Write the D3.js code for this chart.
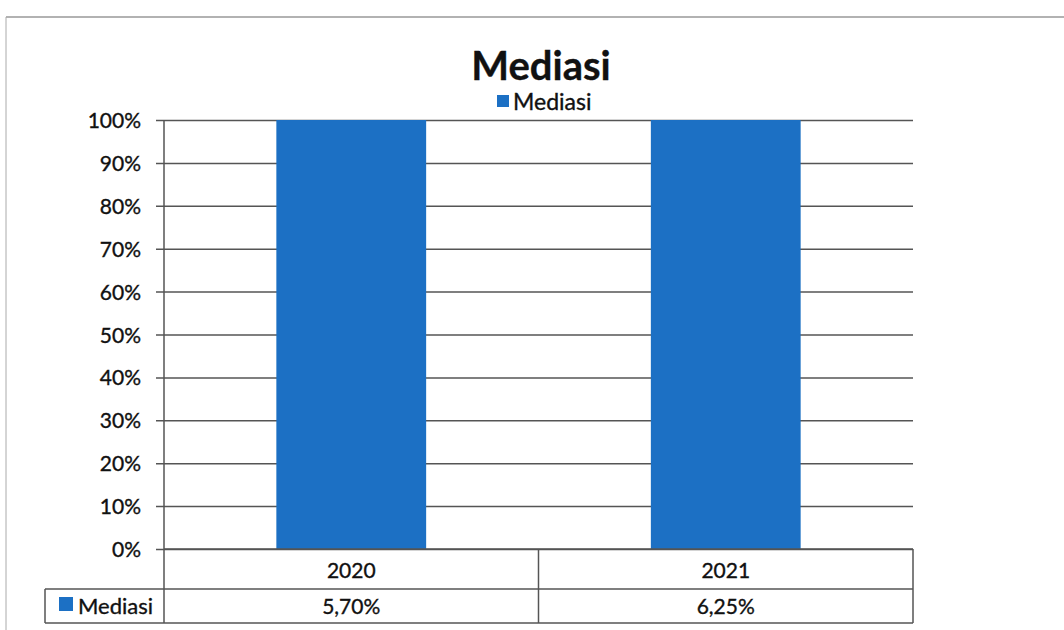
<!DOCTYPE html>
<html>
<head>
<meta charset="utf-8">
<script src="https://cdn.jsdelivr.net/npm/d3@7"></script>
<style>
  body { margin: 0; background: #fff; }
  svg { display: block; font-family: Lato, "Open Sans", sans-serif; }
  .txt { fill: #111; stroke: #111; stroke-width: 0.35px; }
</style>
</head>
<body>
<svg id="chart" width="1064" height="630"></svg>
<script>
// data
const years = ["2020", "2021"];
const seriesName = "Mediasi";
const mediasiValues = [5.70, 6.25];
const yTicks = [0, 0.1, 0.2, 0.3, 0.4, 0.5, 0.6, 0.7, 0.8, 0.9, 1.0];

const barColor = "#1c70c4";
const lineColor = "#555";

const svg = d3.select("#chart");

// page frame (scanned chart border)
svg.append("line").attr("x1", 6).attr("x2", 1064).attr("y1", 17).attr("y2", 17)
    .attr("stroke", "#999").attr("stroke-width", 1.5);
svg.append("line").attr("x1", 6).attr("x2", 6).attr("y1", 17).attr("y2", 630)
    .attr("stroke", "#aaa").attr("stroke-width", 1);

const plot = {left: 164, right: 913, top: 120, bottom: 549};

const x = d3.scaleBand().domain(years).range([plot.left, plot.right]).paddingInner(0.6).paddingOuter(0.3);
const xCol = d3.scaleBand().domain(years).range([plot.left, plot.right]);
const y = d3.scaleLinear().domain([0, 1]).range([plot.bottom, plot.top]);

// 100% stacked: each bar is its series share of the column total
const rows = years.map((yr, i) => {
    const total = d3.sum([mediasiValues[i]]);
    return {year: yr, value: mediasiValues[i], share: mediasiValues[i] / total};
});

// gridlines + ticks
const yAxis = d3.axisLeft(y).tickValues(yTicks)
    .tickFormat(d => Math.round(d * 100) + "%")
    .tickSize(-(plot.right - plot.left)).tickPadding(23);
const gy = svg.append("g").attr("transform", `translate(${plot.left},0)`).call(yAxis);
gy.select(".domain").remove();
gy.selectAll(".tick line").attr("x1", -8).attr("stroke", lineColor).attr("stroke-width", 1.5);
gy.selectAll(".tick text").attr("class", "txt").attr("font-size", 21)
    .attr("font-family", "Lato, sans-serif").attr("dy", "0.36em");

// vertical axis line
svg.append("line").attr("x1", plot.left).attr("x2", plot.left)
    .attr("y1", plot.top).attr("y2", 623).attr("stroke", lineColor).attr("stroke-width", 1.5);

// bars
svg.selectAll("rect.bar").data(rows).join("rect").attr("class", "bar")
    .attr("x", d => x(d.year)).attr("width", x.bandwidth())
    .attr("y", d => y(d.share)).attr("height", d => y(0) - y(d.share))
    .attr("fill", barColor);

// title
svg.append("text").attr("x", 541).attr("y", 80).attr("text-anchor", "middle").attr("class", "txt")
    .attr("font-size", 40).attr("font-weight", "bold").text(seriesName);

// legend
svg.append("rect").attr("x", 497).attr("y", 95).attr("width", 12).attr("height", 12).attr("fill", barColor);
svg.append("text").attr("x", 513).attr("y", 110).attr("font-size", 23).attr("class", "txt").text(seriesName);

// data table
const tbl = {left: 45, row1: 549, row2: 589, bottom: 623};
const tg = svg.append("g").attr("stroke", lineColor).attr("stroke-width", 1.5);
tg.append("line").attr("x1", plot.left).attr("x2", plot.right).attr("y1", tbl.row1).attr("y2", tbl.row1);
tg.append("line").attr("x1", tbl.left).attr("x2", plot.right).attr("y1", tbl.row2).attr("y2", tbl.row2);
tg.append("line").attr("x1", tbl.left).attr("x2", plot.right).attr("y1", tbl.bottom).attr("y2", tbl.bottom);
tg.append("line").attr("x1", tbl.left).attr("x2", tbl.left).attr("y1", tbl.row2).attr("y2", tbl.bottom);
years.forEach(yr => {
    tg.append("line").attr("x1", xCol(yr) + xCol.bandwidth()).attr("x2", xCol(yr) + xCol.bandwidth())
        .attr("y1", tbl.row1).attr("y2", tbl.bottom);
});

const fmt = v => d3.format(".2f")(v).replace(".", ",") + "%";
svg.selectAll("text.cat").data(rows).join("text").attr("class", "cat txt")
    .attr("x", d => xCol(d.year) + xCol.bandwidth() / 2).attr("y", 578)
    .attr("text-anchor", "middle").attr("font-size", 21).text(d => d.year);
svg.selectAll("text.val").data(rows).join("text").attr("class", "val txt")
    .attr("x", d => xCol(d.year) + xCol.bandwidth() / 2).attr("y", 614)
    .attr("text-anchor", "middle").attr("font-size", 21).text(d => fmt(d.value));

svg.append("rect").attr("x", 59).attr("y", 597).attr("width", 14).attr("height", 14).attr("fill", barColor);
svg.append("text").attr("x", 78).attr("y", 614).attr("font-size", 22).attr("class", "txt").text(seriesName);
</script>
</body>
</html>
